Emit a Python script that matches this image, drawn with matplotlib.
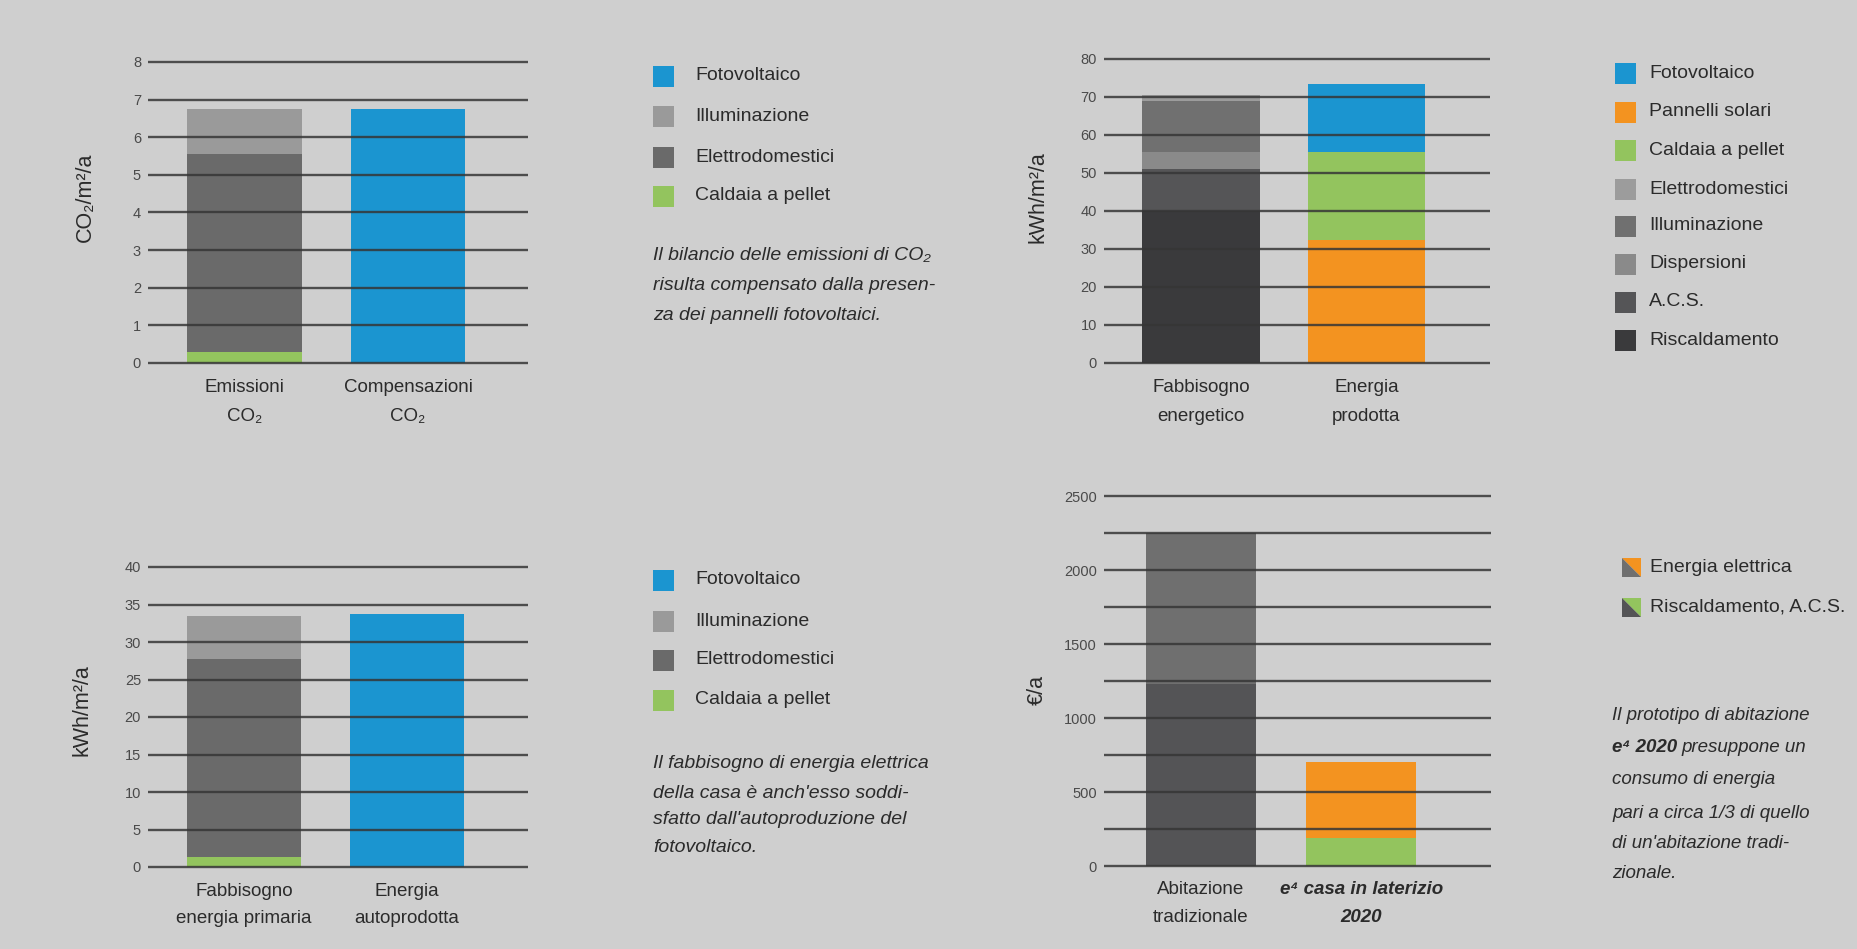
import matplotlib
matplotlib.use("Agg")
import matplotlib.pyplot as plt
import numpy as np
from matplotlib.patches import Rectangle, Polygon

W, H = 1858, 949
plt.rcParams["font.family"] = ["Liberation Sans", "DejaVu Sans"]

BG = "#cfcfcf"
BLUE = "#1b95d0"
ORANGE = "#f39320"
GREEN = "#93c45e"
GRID = "#363636"
TXT = "#2b2b2b"

# CO2 balance (CO2/m2/a)
co2_bars = ["Emissioni\nCO₂", "Compensazioni\nCO₂"]
co2_pellet = [0.3, 0]
co2_elettrodomestici = [5.25, 0]
co2_illuminazione = [1.2, 0]
co2_fotovoltaico = [0, 6.75]
co2_ticks = [0, 1, 2, 3, 4, 5, 6, 7, 8]

# energy demand vs production (kWh/m2/a)
en_bars = ["Fabbisogno\nenergetico", "Energia\nprodotta"]
en_riscaldamento = [40, 0]
en_acs = [11, 0]
en_dispersioni = [4.5, 0]
en_illuminazione = [13.5, 0]
en_elettrodomestici = [1.5, 0]
en_pannelli_solari = [0, 32.5]
en_caldaia_pellet = [0, 23]
en_fotovoltaico = [0, 18]
en_ticks = [0, 10, 20, 30, 40, 50, 60, 70, 80]

# electric energy (kWh/m2/a)
el_bars = ["Fabbisogno\nenergia primaria", "Energia\nautoprodotta"]
el_pellet = [1.4, 0]
el_elettrodomestici = [26.3, 0]
el_illuminazione = [5.8, 0]
el_fotovoltaico = [0, 33.8]
el_ticks = [0, 5, 10, 15, 20, 25, 30, 35, 40]

# yearly cost (€/a)
cost_bars = ["Abitazione\ntradizionale", "e⁴ casa in laterizio\n2020"]
cost_riscaldamento = [1230, 190]
cost_elettrica = [1020, 510]
cost_ticks = [0, 500, 1000, 1500, 2000, 2500]
cost_grid = [250, 750, 1250, 1750, 2250]

fig = plt.figure(figsize=(W / 100, H / 100), dpi=100, facecolor=BG)


def make_axes(x0, x1, y0, y1, top, xlo, xhi):
    # x0/x1: pixel extent of gridlines, y0: pixel of value 0, y1: pixel of top
    pad = 3
    dpp = top / (y0 - y1)
    ax = fig.add_axes([x0 / W, 1 - (y0 + pad) / H, (x1 - x0) / W,
                       (y0 - y1 + 2 * pad) / H])
    ax.set_facecolor("none")
    ax.set_ylim(-pad * dpp, top + pad * dpp)
    ax.set_xlim(xlo, xhi)
    for s in ax.spines.values():
        s.set_visible(False)
    ax.set_axisbelow(False)
    ax.tick_params(length=0, labelsize=10.5, labelcolor="#4a4a4a")
    ax.tick_params(axis="y", pad=5)
    ax.tick_params(axis="x", pad=9, labelsize=13.5, labelcolor=TXT)
    return ax


def stacked(ax, series, colors, width):
    x = np.arange(2)
    bottom = np.zeros(2)
    for vals, col in zip(series, colors):
        ax.bar(x, vals, width, bottom=bottom, color=col, linewidth=0, zorder=1)
        bottom += np.array(vals, dtype=float)


def finish(ax, ticks, labels, grid_extra=None, spacing=1.95):
    ax.set_yticks(ticks)
    ax.set_yticklabels([str(t) for t in ticks])
    if grid_extra:
        ax.set_yticks(grid_extra, minor=True)
        ax.tick_params(which="minor", length=0)
    ax.grid(axis="y", which="both", color=GRID, linewidth=1.7, alpha=0.85)
    ax.set_xticks([0, 1])
    ax.set_xticklabels(labels, linespacing=spacing)


def ftext(x, y, s, **kw):
    return fig.text(x / W, 1 - y / H, s, **kw)


def legend(xsq, xtxt, ys, labels, colors, size=21):
    for y, lab, col in zip(ys, labels, colors):
        fig.add_artist(Rectangle((xsq / W, 1 - (y + size / 2) / H), size / W,
                                 size / H, transform=fig.transFigure,
                                 color=col, linewidth=0))
        ftext(xtxt, y, lab, fontsize=14, color=TXT, va="center", ha="left")


def caption(x, ys, lines, size=14):
    for y, line in zip(ys, lines):
        ftext(x, y, line, fontsize=size, style="italic", color=TXT, va="center")


# panel 1: CO2
ax1 = make_axes(148, 528, 363, 62, 8, -0.59, 1.734)
stacked(ax1, [co2_pellet, co2_elettrodomestici, co2_illuminazione, co2_fotovoltaico],
        [GREEN, "#6a6a6a", "#9a9a9a", BLUE], 0.703)
finish(ax1, co2_ticks, co2_bars)
ftext(85, 197, "CO₂/m²/a", rotation=90, fontsize=15.5, color=TXT, ha="center", va="center")
legend(653, 695, [76, 116, 157, 196],
       ["Fotovoltaico", "Illuminazione", "Elettrodomestici", "Caldaia a pellet"],
       [BLUE, "#9a9a9a", "#6a6a6a", GREEN])
caption(653, [255, 286, 315],
        ["Il bilancio delle emissioni di CO₂", "risulta compensato dalla presen-",
         "za dei pannelli fotovoltaici."])

# panel 2: energy balance
ax2 = make_axes(1104, 1490, 363, 59, 80, -0.586, 1.746)
stacked(ax2, [en_riscaldamento, en_acs, en_dispersioni, en_illuminazione,
              en_elettrodomestici, en_pannelli_solari, en_caldaia_pellet, en_fotovoltaico],
        ["#3a3a3c", "#555557", "#8a8a8a", "#707070", "#9c9c9c", ORANGE, GREEN, BLUE], 0.71)
finish(ax2, en_ticks, en_bars)
ftext(1038, 197, "kWh/m²/a", rotation=90, fontsize=15.5, color=TXT, ha="center", va="center")
legend(1615, 1649, [73, 112, 150, 189, 226, 264, 302, 340],
       ["Fotovoltaico", "Pannelli solari", "Caldaia a pellet", "Elettrodomestici",
        "Illuminazione", "Dispersioni", "A.C.S.", "Riscaldamento"],
       [BLUE, ORANGE, GREEN, "#9c9c9c", "#707070", "#8a8a8a", "#555557", "#3a3a3c"])

# panel 3: electric energy
ax3 = make_axes(148, 528, 867, 567, 40, -0.589, 1.742)
stacked(ax3, [el_pellet, el_elettrodomestici, el_illuminazione, el_fotovoltaico],
        [GREEN, "#6a6a6a", "#9a9a9a", BLUE], 0.70)
finish(ax3, el_ticks, el_bars, spacing=1.8)
ftext(82, 710, "kWh/m²/a", rotation=90, fontsize=15.5, color=TXT, ha="center", va="center")
legend(653, 695, [580, 621, 660, 700],
       ["Fotovoltaico", "Illuminazione", "Elettrodomestici", "Caldaia a pellet"],
       [BLUE, "#9a9a9a", "#6a6a6a", GREEN])
caption(653, [763, 793, 820, 848],
        ["Il fabbisogno di energia elettrica", "della casa è anch'esso soddi-",
         "sfatto dall'autoproduzione del", "fotovoltaico."])

# panel 4: yearly cost
ax4 = make_axes(1104, 1491, 866, 496, 2500, -0.604, 1.807)
stacked(ax4, [cost_riscaldamento, cost_elettrica],
        [["#545456", GREEN], ["#6f6f6f", ORANGE]], 0.685)
finish(ax4, cost_ticks, cost_bars, cost_grid, spacing=1.8)
lab = ax4.get_xticklabels()[1]
lab.set_style("italic")
lab.set_weight("bold")
ftext(1037, 690, "€/a", rotation=90, fontsize=15.5, color=TXT, ha="center", va="center")

# split legend swatches
for y, lab_txt, c_dark, c_col in [(567, "Energia elettrica", "#6f6f6f", ORANGE),
                                  (607, "Riscaldamento, A.C.S.", "#545456", GREEN)]:
    s = 19
    xa, xb = 1622 / W, (1622 + s) / W
    ya, yb = 1 - (y - s / 2) / H, 1 - (y + s / 2) / H
    fig.add_artist(Polygon([(xa, ya), (xb, ya), (xb, yb)], closed=True,
                           transform=fig.transFigure, color=c_col, linewidth=0))
    fig.add_artist(Polygon([(xa, ya), (xa, yb), (xb, yb)], closed=True,
                           transform=fig.transFigure, color=c_dark, linewidth=0))
    ftext(1650, y, lab_txt, fontsize=14, color=TXT, va="center", ha="left")

# caption with bold run on second line
cap_y = [715, 748, 780, 813, 843, 873]
caption(1612, cap_y[:1], ["Il prototipo di abitazione"], size=13.5)
caption(1612, cap_y[2:], ["consumo di energia", "pari a circa 1/3 di quello",
                          "di un'abitazione tradi-", "zionale."], size=13.5)
renderer = fig.canvas.get_renderer()
t = ftext(1612, cap_y[1], "e⁴ 2020", fontsize=13.5, style="italic", weight="bold",
          color=TXT, va="center")
bb = t.get_window_extent(renderer)
ftext(bb.x1 + 4, cap_y[1], "presuppone un", fontsize=13.5, style="italic",
      color=TXT, va="center")

fig.savefig("out.png", dpi=100, facecolor=BG)
